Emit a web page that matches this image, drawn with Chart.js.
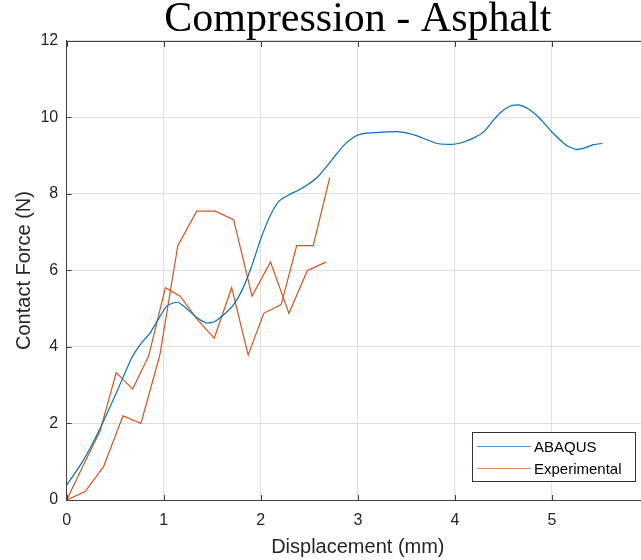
<!DOCTYPE html>
<html>
<head>
<meta charset="utf-8">
<script src="https://cdn.jsdelivr.net/npm/chart.js@4.4.1/dist/chart.umd.min.js"></script>
<style>
  html, body { margin: 0; padding: 0; background: #fff; overflow: hidden; }
  #wrap { width: 660px; height: 560px; }
</style>
</head>
<body>
<div id="wrap"><canvas id="plot" width="660" height="560"></canvas></div>
<script>
// ABAQUS simulation curve
const abaqusX = [0, 0.17, 0.34, 0.52, 0.67, 0.76, 0.86, 1.03, 1.14, 1.22, 1.34, 1.44, 1.52, 1.62, 1.72, 1.81, 1.90,
  2.00, 2.10, 2.19, 2.29, 2.38, 2.47, 2.58, 2.72, 2.85, 2.96, 3.04, 3.13, 3.27, 3.40, 3.51, 3.61, 3.71, 3.82, 3.90,
  3.99, 4.09, 4.19, 4.30, 4.38, 4.47, 4.57, 4.66, 4.76, 4.88, 5.00, 5.14, 5.24, 5.33, 5.43, 5.52];
const abaqusY = [0.39, 1.03, 1.85, 2.85, 3.72, 4.07, 4.37, 5.07, 5.17, 5.04, 4.77, 4.63, 4.66, 4.85, 5.11, 5.50, 6.07,
  6.83, 7.45, 7.82, 7.98, 8.09, 8.22, 8.43, 8.85, 9.26, 9.49, 9.57, 9.60, 9.62, 9.63, 9.59, 9.52, 9.42, 9.32, 9.30,
  9.30, 9.36, 9.46, 9.63, 9.88, 10.13, 10.30, 10.33, 10.22, 9.96, 9.62, 9.29, 9.17, 9.20, 9.29, 9.32];

// experimental runs
const exp1X = [0, 0.17, 0.345, 0.51, 0.68, 0.845, 1.017, 1.17, 1.345, 1.52, 1.70, 1.87, 2.03, 2.21, 2.37, 2.54, 2.71];
const exp1Y = [0, 0.9, 1.81, 3.33, 2.90, 3.77, 5.55, 5.33, 4.72, 4.23, 5.55, 3.79, 4.88, 5.11, 6.65, 6.65, 8.43];
const exp2X = [0, 0.19, 0.38, 0.58, 0.765, 0.96, 1.145, 1.34, 1.53, 1.72, 1.91, 2.10, 2.29, 2.48, 2.67];
const exp2Y = [0, 0.22, 0.87, 2.20, 2.0, 3.79, 6.65, 7.55, 7.55, 7.33, 5.33, 6.22, 4.88, 6.0, 6.22];

const xTicks = [0, 1, 2, 3, 4, 5, 6];
const yTicks = [0, 2, 4, 6, 8, 10, 12];

const blue = '#0072BD';
const orange = '#D95319';
const axisCol = '#404040';
const textCol = '#262626';
const sans = "'Liberation Sans', Arial, sans-serif";

let pts = (xs, ys) => xs.map((x, i) => ({x: x, y: ys[i]}));

// matlab-ish box: top border + inward tick marks + legend
const boxPlugin = {
  id: 'matlabBox',
  afterDraw(chart) {
    const {ctx, chartArea: a, scales} = chart;
    ctx.save();
    ctx.strokeStyle = axisCol;
    ctx.lineWidth = 1;
    ctx.beginPath();
    ctx.moveTo(a.left, a.top + 0.5);
    ctx.lineTo(a.right, a.top + 0.5);
    scales.x.ticks.forEach(t => {
      let px = Math.round(scales.x.getPixelForValue(t.value)) + 0.5;
      ctx.moveTo(px, a.bottom);
      ctx.lineTo(px, a.bottom - 5);
      ctx.moveTo(px, a.top);
      ctx.lineTo(px, a.top + 6);
    });
    scales.y.ticks.forEach(t => {
      let py = Math.round(scales.y.getPixelForValue(t.value)) + 0.5;
      ctx.moveTo(a.left, py);
      ctx.lineTo(a.left + 5, py);
    });
    ctx.stroke();

    // legend box (southeast)
    const w = 163, h = 49;
    const x0 = Math.round(a.right - 14 - w), y0 = Math.round(a.bottom - 19 - h);
    ctx.fillStyle = '#fff';
    ctx.fillRect(x0, y0, w, h);
    ctx.strokeStyle = '#333';
    ctx.strokeRect(x0 + 0.5, y0 + 0.5, w, h);
    ctx.font = '15px ' + sans;
    ctx.textBaseline = 'middle';
    ctx.textAlign = 'left';
    chart.data.datasets.slice(0, 2).forEach((ds, i) => {
      let ly = y0 + 14.5 + i * 22;
      ctx.strokeStyle = ds.borderColor;
      ctx.globalAlpha = 0.7;
      ctx.beginPath();
      ctx.moveTo(x0 + 5, ly);
      ctx.lineTo(x0 + 59, ly);
      ctx.stroke();
      ctx.globalAlpha = 1;
      ctx.fillStyle = '#000';
      ctx.fillText(ds.label, x0 + 62, ly + 1.5);
    });
    ctx.restore();
  }
};

new Chart(document.getElementById('plot'), {
  type: 'line',
  data: {
    datasets: [
      {label: 'ABAQUS', data: pts(abaqusX, abaqusY), borderColor: blue, borderWidth: 1.2, pointRadius: 0, tension: 0.2},
      {label: 'Experimental', data: pts(exp1X, exp1Y), borderColor: orange, borderWidth: 1.2, pointRadius: 0, tension: 0},
      {label: 'Experimental', data: pts(exp2X, exp2Y), borderColor: orange, borderWidth: 1.2, pointRadius: 0, tension: 0}
    ]
  },
  options: {
    responsive: false,
    animation: false,
    events: [],
    layout: {padding: 0},
    plugins: {
      legend: {display: false},
      tooltip: {enabled: false},
      title: {
        display: true,
        text: 'Compression - Asphalt',
        fullSize: false,
        color: '#000',
        font: {family: "'Liberation Serif', 'Times New Roman', serif", size: 42, weight: 'normal', lineHeight: 0.976},
        padding: {top: -1, bottom: 1}
      }
    },
    scales: {
      x: {
        type: 'linear',
        min: 0,
        max: 6,
        afterBuildTicks: s => { s.ticks = xTicks.map(v => ({value: v})); },
        ticks: {
          color: textCol,
          font: {family: sans, size: 16},
          padding: 11,
          maxRotation: 0,
          callback: v => v > 5 ? '' : v
        },
        grid: {color: '#dfdfdf', drawTicks: false},
        border: {color: axisCol, width: 1},
        title: {
          display: true,
          text: 'Displacement (mm)',
          color: textCol,
          font: {family: sans, size: 20},
          padding: {top: -5.7, bottom: 0.5}
        }
      },
      y: {
        min: 0,
        max: 12,
        afterBuildTicks: s => { s.ticks = yTicks.map(v => ({value: v})); },
        ticks: {
          color: textCol,
          font: {family: sans, size: 16},
          padding: 8.5
        },
        grid: {color: '#dfdfdf', drawTicks: false},
        border: {color: axisCol, width: 1},
        title: {
          display: true,
          text: 'Contact Force (N)',
          color: textCol,
          font: {family: sans, size: 20},
          padding: {top: 12.5, bottom: -4.6}
        }
      }
    }
  },
  plugins: [boxPlugin]
});
</script>
</body>
</html>
